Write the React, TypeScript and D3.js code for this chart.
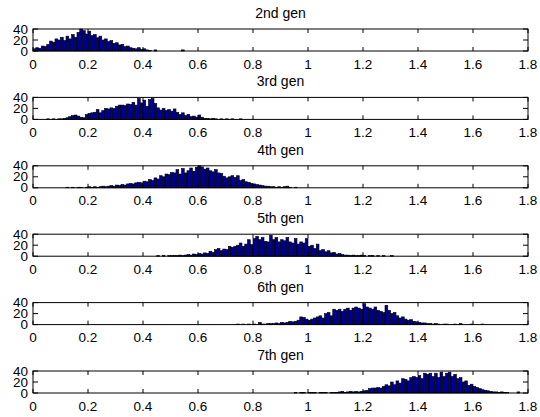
import React from "react";
import * as d3 from "d3";

const titles = ["2nd gen", "3rd gen", "4th gen", "5th gen", "6th gen", "7th gen"];
const xTicks = [0, 0.2, 0.4, 0.6, 0.8, 1, 1.2, 1.4, 1.6, 1.8];
const xTickLabels = ["0", "0.2", "0.4", "0.6", "0.8", "1", "1.2", "1.4", "1.6", "1.8"];
const yTicks = [0, 20, 40];
const yTickLabels = ["0", "20", "40"];
const binWidth = 0.01;

const gen2Start = 0.0;
const gen2Counts = [4, 6, 5, 9, 8, 12, 18, 16, 22, 20, 25, 19, 27, 22, 30, 25, 34, 40, 37, 31, 36, 28, 30, 24, 27, 20, 22, 17, 19, 14, 15, 11, 12, 8, 9, 6, 5, 4, 6, 3, 4, 2, 1, 0, 2, 0, 0, 0, 0, 0, 0, 0, 0, 0, 2, 0];

const gen3Start = 0.05;
const gen3Counts = [1, 0, 1, 0, 1, 1, 2, 3, 5, 7, 8, 6, 4, 3, 9, 11, 12, 13, 18, 12, 16, 20, 19, 21, 20, 24, 26, 26, 25, 28, 27, 31, 26, 38, 30, 35, 24, 36, 38, 29, 21, 17, 20, 16, 18, 15, 19, 13, 9, 12, 7, 9, 5, 6, 4, 8, 4, 2, 2, 1, 2, 1, 0, 1, 0, 1, 0, 1, 0, 0, 1];

const gen4Start = 0.12;
const gen4Counts = [1, 0, 1, 0, 1, 1, 0, 1, 2, 1, 2, 1, 2, 3, 2, 3, 4, 3, 5, 4, 6, 5, 7, 8, 7, 9, 10, 9, 12, 11, 15, 13, 18, 16, 22, 20, 25, 24, 28, 27, 33, 25, 35, 27, 31, 36, 30, 37, 40, 38, 34, 36, 31, 29, 33, 27, 26, 21, 18, 20, 22, 19, 22, 13, 15, 11, 10, 8, 7, 6, 5, 4, 3, 3, 2, 2, 1, 2, 1, 2, 3, 1, 0, 1];

const gen5Start = 0.45;
const gen5Counts = [1, 0, 1, 0, 1, 1, 1, 1, 2, 1, 2, 3, 2, 4, 3, 5, 4, 6, 5, 9, 7, 12, 14, 10, 13, 12, 18, 16, 18, 20, 24, 18, 22, 30, 21, 32, 36, 30, 34, 27, 26, 38, 30, 34, 26, 30, 28, 34, 26, 24, 32, 22, 26, 24, 32, 18, 20, 14, 22, 10, 12, 8, 10, 6, 7, 4, 5, 3, 2, 2, 1, 2, 1, 1, 2, 1, 0, 1, 1, 0, 1, 0, 1, 0, 0, 1];

const gen6Start = 0.74;
const gen6Counts = [1, 0, 1, 0, 1, 0, 1, 0, 4, 1, 1, 2, 2, 2, 3, 2, 4, 3, 4, 6, 5, 6, 8, 14, 13, 10, 8, 10, 12, 14, 16, 12, 20, 22, 16, 28, 26, 28, 24, 28, 30, 26, 30, 32, 30, 28, 38, 32, 30, 28, 32, 26, 24, 22, 35, 26, 20, 22, 16, 12, 14, 10, 8, 9, 6, 5, 4, 3, 3, 2, 2, 1, 2, 1, 0, 1, 1, 0, 0, 1, 0, 2, 0, 0, 0, 1, 0, 0, 0, 1];

const gen7Start = 0.95;
const gen7Counts = [1, 0, 1, 1, 0, 1, 1, 1, 0, 1, 1, 1, 0, 1, 1, 1, 2, 3, 1, 2, 3, 2, 3, 2, 3, 4, 5, 8, 9, 9, 10, 9, 12, 15, 13, 20, 15, 22, 18, 26, 25, 22, 28, 30, 28, 32, 26, 36, 34, 36, 30, 36, 28, 38, 30, 36, 38, 30, 34, 26, 28, 20, 22, 14, 16, 12, 10, 8, 6, 5, 4, 3, 2, 2, 1, 2, 1, 1, 0, 0, 0, 2];

const starts = [gen2Start, gen3Start, gen4Start, gen5Start, gen6Start, gen7Start];
const counts = [gen2Counts, gen3Counts, gen4Counts, gen5Counts, gen6Counts, gen7Counts];

const W = 540;
const H = 417;
const left = 33;
const right = 528;
const firstTop = 29;
const step = 68.4;
const panelH = 22;
const font = "Liberation Sans, Arial, Helvetica, sans-serif";

export default function App() {
  const x = d3.scaleLinear().domain([0, 1.8]).range([left, right]);
  return (
    <svg width={W} height={H} style={{ position: "absolute", left: 0, top: 0, background: "#fff" }} fontFamily={font}>
      <rect x={0} y={0} width={W} height={H} fill="#fff" />
      {titles.map((t, k) => {
        const top = firstTop + step * k;
        const y = d3.scaleLinear().domain([0, 40]).range([top + panelH, top]);
        const bins = counts[k].map((c, i) => ({ x0: starts[k] + i * binWidth, c }));
        return (
          <g key={t}>
            <text x={(left + right) / 2} y={top - 16} fontSize={14} textAnchor="middle" dominantBaseline="central" fill="#000">{t}</text>
            {bins.map((b, i) =>
              b.c > 0 ? (
                <rect key={i} x={x(b.x0)} width={x(b.x0 + binWidth) - x(b.x0)} y={y(b.c)} height={y(0) - y(b.c)} fill="#00008f" stroke="#000" strokeWidth={0.6} />
              ) : null
            )}
            <rect x={left} y={top} width={right - left} height={panelH} fill="none" stroke="#000" strokeWidth={1} />
            {xTicks.map((v, i) => (
              <g key={"x" + i}>
                <line x1={x(v)} x2={x(v)} y1={top + panelH} y2={top + panelH - 4} stroke="#000" />
                <line x1={x(v)} x2={x(v)} y1={top} y2={top + 4} stroke="#000" />
                <text x={x(v)} y={top + panelH + 13} fontSize={13.5} textAnchor="middle" dominantBaseline="central" fill="#000">{xTickLabels[i]}</text>
              </g>
            ))}
            {yTicks.map((v, i) => (
              <g key={"y" + i}>
                <line x1={left} x2={left + 5} y1={y(v)} y2={y(v)} stroke="#000" />
                <line x1={right} x2={right - 5} y1={y(v)} y2={y(v)} stroke="#000" />
                <text x={left - 5} y={y(v)} fontSize={13.5} textAnchor="end" dominantBaseline="central" fill="#000">{yTickLabels[i]}</text>
              </g>
            ))}
          </g>
        );
      })}
    </svg>
  );
}
